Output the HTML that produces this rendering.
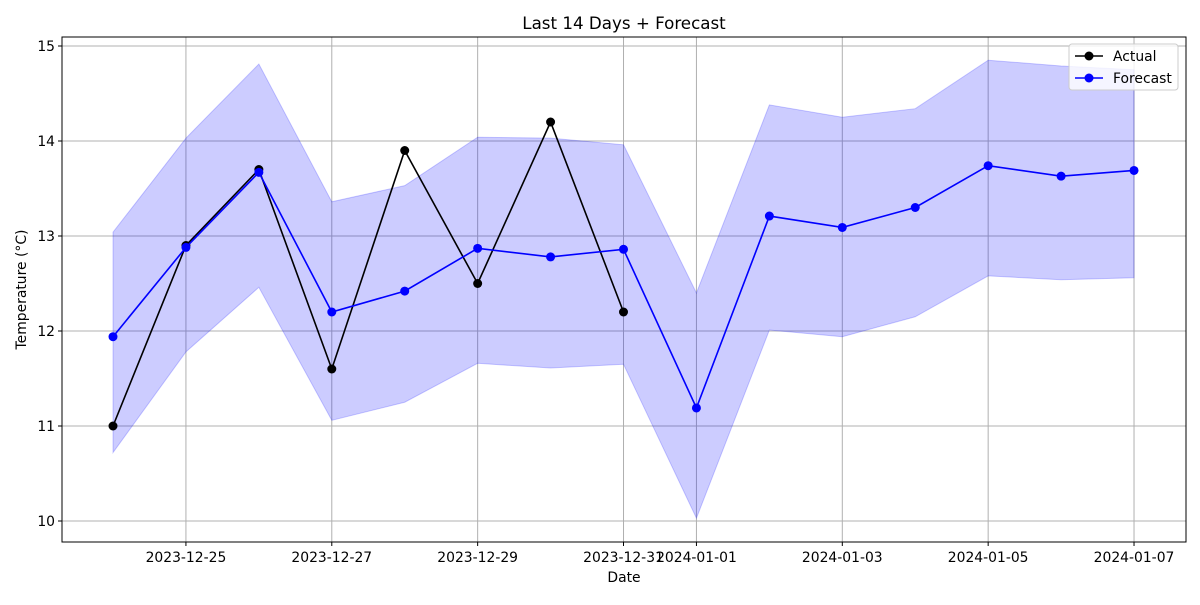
<!DOCTYPE html>
<html><head><meta charset="utf-8"><style>
body{margin:0;background:#fff;font-family:"Liberation Sans","DejaVu Sans",sans-serif}
svg text{font-family:"DejaVu Sans","Liberation Sans",sans-serif}
</style></head><body>
<svg id="chart" width="1200" height="600" xmlns="http://www.w3.org/2000/svg"></svg>
<script>
const dates=["2023-12-24","2023-12-25","2023-12-26","2023-12-27","2023-12-28","2023-12-29","2023-12-30","2023-12-31","2024-01-01","2024-01-02","2024-01-03","2024-01-04","2024-01-05","2024-01-06","2024-01-07"];
const actual=[11.0,12.9,13.7,11.6,13.9,12.5,14.2,12.2];
const forecast=[11.94,12.88,13.67,12.2,12.42,12.87,12.78,12.86,11.19,13.21,13.09,13.30,13.74,13.63,13.69];
const upper=[13.04,14.03,14.81,13.36,13.53,14.04,14.03,13.96,12.40,14.38,14.25,14.34,14.85,14.79,14.75];
const lower=[10.72,11.78,12.46,11.06,11.25,11.66,11.61,11.65,10.03,12.01,11.94,12.15,12.58,12.54,12.56];
const xTickIdx=[1,3,5,7,8,10,12,14];
const yTicks=[10,11,12,13,14,15];

const NS="http://www.w3.org/2000/svg",svg=document.getElementById('chart');
const L=62,R=1186,T=37,B=542;
const X=i=>113+i*72.93, Y=v=>521-(v-10)*95;
function mk(t,a,p){const e=document.createElementNS(NS,t);for(const k in a)e.setAttribute(k,a[k]);(p||svg).appendChild(e);return e;}

xTickIdx.forEach(i=>{
 const g=mk('line',{x1:X(i),x2:X(i),y1:T,y2:B,stroke:'#b0b0b0','stroke-width':1});
 
 
 mk('line',{x1:X(i),x2:X(i),y1:B,y2:B+4,stroke:'#000'});
 const t=mk('text',{x:X(i),y:B+20,'text-anchor':'middle','font-size':13.9});t.textContent=dates[i];
 
 
});
yTicks.forEach(v=>{
 const g=mk('line',{x1:L,x2:R,y1:Y(v),y2:Y(v),stroke:'#b0b0b0','stroke-width':1});
 
 
 mk('line',{x1:L-4,x2:L,y1:Y(v),y2:Y(v),stroke:'#000'});
 const t=mk('text',{x:L-7,y:Y(v)+5,'text-anchor':'end','font-size':13.9});t.textContent=v;
 
 
});
let pts=upper.map((v,i)=>X(i)+','+Y(v)).concat(lower.map((v,i)=>X(i)+','+Y(v)).reverse());
const band=mk('polygon',{points:pts.join(' '),fill:'rgba(0,0,255,0.2)',stroke:'rgba(0,0,255,0.2)'});


function series(vals,col,name){
 const l=mk('polyline',{points:vals.map((v,i)=>X(i)+','+Y(v)).join(' '),fill:'none',stroke:col,'stroke-width':1.6});
 
 
 vals.forEach((v,i)=>{const c=mk('circle',{cx:X(i),cy:Y(v),r:4.5,fill:col});
  
  });
}
series(actual,'#000','actual');
series(forecast,'#0000ff','forecast');
const fr=mk('rect',{x:L,y:T,width:R-L,height:B-T,fill:'none',stroke:'#000','stroke-width':1});


const ti=mk('text',{x:(L+R)/2,y:29,'text-anchor':'middle','font-size':16.7});ti.textContent='Last 14 Days + Forecast';


const xt=mk('text',{x:(L+R)/2,y:582,'text-anchor':'middle','font-size':13.9});xt.textContent='Date';


const yt=mk('text',{x:26,y:(T+B)/2,'text-anchor':'middle','font-size':13.9,transform:'rotate(-90 26 '+(T+B)/2+')'});yt.textContent='Temperature (°C)';


const lg=mk('g',{});


mk('rect',{x:1069,y:44,width:109,height:46,rx:3,fill:'rgba(255,255,255,0.8)',stroke:'#ccc'},lg);
[['Actual','#000',56],['Forecast','#0000ff',78]].forEach(([n,c,y])=>{
 const e=mk('g',{},lg);
 
 
 mk('line',{x1:1075,x2:1103,y1:y,y2:y,stroke:c,'stroke-width':1.6},e);
 mk('circle',{cx:1089,cy:y,r:4.5,fill:c},e);
 const t=mk('text',{x:1113,y:y+5,'font-size':13.9},e);t.textContent=n;
});
</script>
</body></html>
